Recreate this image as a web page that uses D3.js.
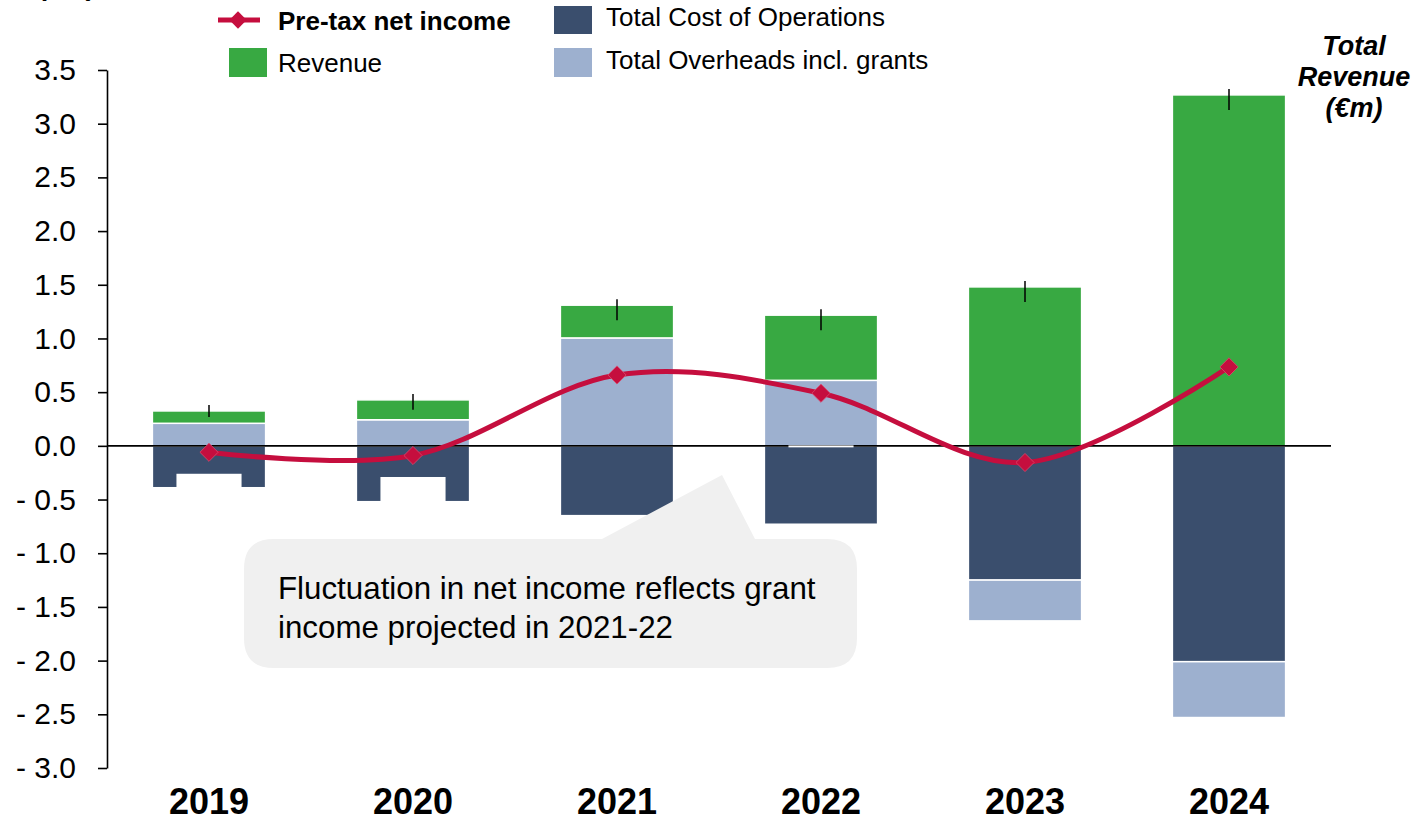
<!DOCTYPE html>
<html>
<head>
<meta charset="utf-8">
<script src="https://cdn.jsdelivr.net/npm/d3@7/dist/d3.min.js"></script>
<style>
  html, body { margin: 0; padding: 0; background: #fff; }
  svg { display: block; font-family: "Liberation Sans", Arial, sans-serif; }
</style>
</head>
<body>
<svg id="chart" width="1419" height="819"></svg>
<script>
// ---------------- data (€m) ----------------
const years        = ["2019", "2020", "2021", "2022", "2023", "2024"];
const revenue      = [0.115, 0.185, 0.305, 0.607, 1.48, 3.268];
const overheads    = [0.21, 0.243, 1.005, 0.61, -0.38, -0.52];   // Total Overheads incl. grants
const costOfOps    = [-0.39, -0.52, -0.65, -0.73, -1.25, -2.01]; // Total Cost of Operations
const netIncome    = [-0.06, -0.09, 0.66, 0.49, -0.155, 0.735];  // Pre-tax net income
const yTicks       = [-3, -2.5, -2, -1.5, -1, -0.5, 0, 0.5, 1, 1.5, 2, 2.5, 3, 3.5];
// hidden (blank) data-label boxes that mask part of some bars: [top, bottom] in €m
const labelMasks   = [[-0.26, -0.45], [-0.29, -0.56], null, [0.004, -0.014], null, null];
const legendItems  = ["Pre-tax net income", "Revenue", "Total Cost of Operations", "Total Overheads incl. grants"];
const calloutLines = ["Fluctuation in net income reflects grant", "income projected in 2021-22"];
const rightTitle   = ["Total", "Revenue", "(€m)"];

// ---------------- styles ----------------
const C = {
  revenue: "#38A942",
  cost: "#3A4E6D",
  overheads: "#9DB0CF",
  line: "#C50E3E",
  callout: "#F0F0F0"
};

const svg = d3.select("#chart");

const x = d3.scaleBand().domain(years).range([107, 1331]).paddingInner(0.445).paddingOuter(0.2225);
const y = d3.scaleLinear().domain([-3, 3.5]).range([768, 70]);

// build stacked segments
const segs = [];
years.forEach((yr, i) => {
  const ovh = overheads[i], rev = revenue[i], cost = costOfOps[i];
  segs.push({ yr, y0: cost, y1: 0, color: C.cost });
  if (ovh >= 0) {
    segs.push({ yr, y0: 0, y1: ovh, color: C.overheads });
    segs.push({ yr, y0: ovh, y1: ovh + rev, color: C.revenue });
  } else {
    segs.push({ yr, y0: cost + ovh, y1: cost, color: C.overheads });
    segs.push({ yr, y0: 0, y1: rev, color: C.revenue });
  }
});

svg.append("g").selectAll("rect").data(segs).join("rect")
  .attr("x", d => x(d.yr))
  .attr("width", x.bandwidth())
  .attr("y", d => y(Math.max(d.y0, d.y1)))
  .attr("height", d => Math.abs(y(d.y0) - y(d.y1)))
  .attr("fill", d => d.color)
  .attr("stroke", "#fff")
  .attr("stroke-width", 1.5);

// zero line
svg.append("line")
  .attr("x1", x.range()[0]).attr("x2", x.range()[1])
  .attr("y1", y(0)).attr("y2", y(0))
  .attr("stroke", "#000").attr("stroke-width", 1.6);

// blank label masks
const maskW = x.bandwidth() * 0.575;
svg.append("g").selectAll("rect").data(labelMasks.map((m, i) => ({ m, yr: years[i] })).filter(d => d.m))
  .join("rect")
  .attr("x", d => x(d.yr) + x.bandwidth() / 2 - maskW / 2)
  .attr("width", maskW)
  .attr("y", d => y(d.m[0]))
  .attr("height", d => y(d.m[1]) - y(d.m[0]))
  .attr("fill", "#fff");

// total revenue markers
const totals = years.map((yr, i) => ({
  yr, top: (overheads[i] > 0 ? overheads[i] : 0) + revenue[i], rev: revenue[i]
}));
svg.append("g").selectAll("line").data(totals).join("line")
  .attr("x1", d => x(d.yr) + x.bandwidth() / 2)
  .attr("x2", d => x(d.yr) + x.bandwidth() / 2)
  .attr("y1", d => y(d.top + 0.055))
  .attr("y2", d => y(d.top - Math.min(0.14, d.rev / 2)))
  .attr("stroke", "#000").attr("stroke-width", 1.5);

// y axis
const yAxis = d3.axisLeft(y)
  .tickValues(yTicks)
  .tickSize(9).tickSizeOuter(0).tickPadding(22)
  .tickFormat(v => (v < 0 ? "- " : "") + Math.abs(v).toFixed(1));
const gy = svg.append("g").attr("transform", `translate(${x.range()[0]},0)`).call(yAxis);
gy.select(".domain").attr("stroke", "#000").attr("stroke-width", 1.6);
gy.selectAll(".tick line").attr("stroke", "#000").attr("stroke-width", 1.6);
gy.selectAll(".tick text")
  .attr("fill", "#000")
  .style("font-size", "30px")
  .style("font-family", "'Liberation Sans', Arial, sans-serif");

// x labels
svg.append("g").selectAll("text").data(years).join("text")
  .attr("x", d => x(d) + x.bandwidth() / 2)
  .attr("y", 814)
  .attr("text-anchor", "middle")
  .style("font-size", "36px").style("font-weight", "bold")
  .text(d => d);

// callout
(function () {
  const L = 244, R = 857, T = 539, B = 668, r = 30;
  const p1 = 602, tipX = 722, tipY = 475, p2 = 755;
  const p = d3.path();
  p.moveTo(L + r, T);
  p.lineTo(p1, T);
  p.lineTo(tipX, tipY);
  p.lineTo(p2, T);
  p.lineTo(R - r, T);
  p.quadraticCurveTo(R, T, R, T + r);
  p.lineTo(R, B - r);
  p.quadraticCurveTo(R, B, R - r, B);
  p.lineTo(L + r, B);
  p.quadraticCurveTo(L, B, L, B - r);
  p.lineTo(L, T + r);
  p.quadraticCurveTo(L, T, L + r, T);
  p.closePath();
  svg.append("path").attr("d", p.toString()).attr("fill", C.callout);
  svg.append("g").selectAll("text").data(calloutLines).join("text")
    .attr("x", 278)
    .attr("y", (d, i) => 599 + i * 39)
    .style("font-size", "31.3px")
    .attr("fill", "#000")
    .text(d => d);
})();

// net income line
const pts = years.map((yr, i) => [x(yr) + x.bandwidth() / 2, y(netIncome[i])]);
svg.append("path")
  .attr("d", d3.line().curve(d3.curveCardinal.tension(0))(pts))
  .attr("fill", "none").attr("stroke", C.line).attr("stroke-width", 5);
const diamond = d3.symbol().type(d3.symbolSquare).size(165);
svg.append("g").selectAll("path").data(pts).join("path")
  .attr("d", diamond)
  .attr("transform", d => `translate(${d[0]},${d[1]}) rotate(45)`)
  .attr("fill", C.line).attr("stroke", "#D8476A").attr("stroke-width", 0.8);

// legend
const lg = svg.append("g");
lg.append("line").attr("x1", 218).attr("x2", 260).attr("y1", 20).attr("y2", 20)
  .attr("stroke", C.line).attr("stroke-width", 5);
lg.append("path").attr("d", d3.symbol().type(d3.symbolSquare).size(150))
  .attr("transform", "translate(238,20) rotate(45)").attr("fill", C.line);
lg.append("text").attr("x", 278).attr("y", 30).style("font-size", "26px").style("font-weight", "bold").text(legendItems[0]);
lg.append("rect").attr("x", 229).attr("y", 48).attr("width", 38).attr("height", 29).attr("fill", C.revenue);
lg.append("text").attr("x", 278).attr("y", 72).style("font-size", "26px").text(legendItems[1]);
lg.append("rect").attr("x", 554).attr("y", 6).attr("width", 38).attr("height", 28).attr("fill", C.cost);
lg.append("text").attr("x", 606).attr("y", 26).style("font-size", "26px").text(legendItems[2]);
lg.append("rect").attr("x", 554).attr("y", 48).attr("width", 38).attr("height", 29).attr("fill", C.overheads);
lg.append("text").attr("x", 606).attr("y", 69).style("font-size", "26px").text(legendItems[3]);

// right title
svg.append("g").selectAll("text").data(rightTitle).join("text")
  .attr("x", 1354)
  .attr("y", (d, i) => 55 + i * 31)
  .attr("text-anchor", "middle")
  .style("font-size", "27px").style("font-weight", "bold").style("font-style", "italic")
  .text(d => d);

// clipped top-left unit label (only its lowest tips are visible)
svg.append("text").attr("x", 40).attr("y", -5)
  .style("font-size", "27px").style("font-weight", "bold").style("font-style", "italic")
  .text("(€m)");
</script>
</body>
</html>
